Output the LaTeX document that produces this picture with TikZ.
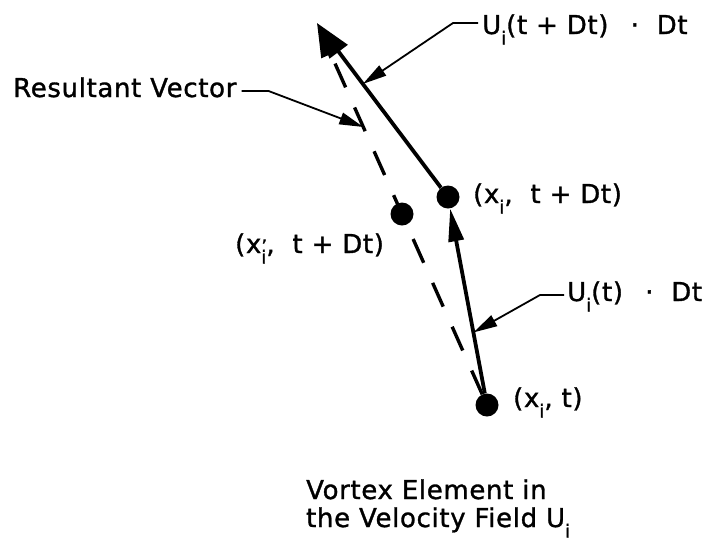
\documentclass[tikz,border=0pt]{standalone}
\usepackage{fontspec}
\setmainfont{DejaVu Sans}[LetterSpace=2.5, FakeBold=1.2]
\usepackage{tikz}
\usetikzlibrary{arrows.meta}

\newcommand{\loi}{\raisebox{-10.5pt}{\fontsize{18}{18}\selectfont i}}
\newcommand{\prmi}{\raisebox{-10.5pt}{\fontsize{18}{18}\selectfont\rlap{\raisebox{11pt}{'}}i}}

\begin{document}
\begin{tikzpicture}[x=1pt, y=-1pt,
  dot/.style={circle, fill=black, minimum size=23pt, inner sep=0pt},
  lab/.style={inner sep=0pt, anchor=base west, font=\fontsize{26}{30}\selectfont},
  vec/.style={line width=3.8pt, -{Triangle[length=33pt, width=15pt]}},
  res/.style={line width=3.4pt, dash pattern=on 26pt off 22pt, -{Triangle[length=34pt, width=20pt]}},
  lead/.style={line width=1.8pt, -{Triangle[length=24pt, width=12pt]}}
]
\useasboundingbox (0,0) rectangle (705,542);

% Element positions
\node[dot] (xt) at (487,405) {};
\node[dot] (xtdt) at (448,197) {};
\node[dot] (xpr) at (402,214) {};
\coordinate (tip) at (317,23);

% Vectors
\draw[vec] (xt) -- (xtdt);
\draw[res] (xt) -- (tip);
\draw[vec, -{Triangle[length=36pt, width=22pt]}] (xtdt) -- (tip);

% Points the pointers aim at
\path (xtdt) -- (tip) coordinate[pos=0.63] (onU1);
\path (xt) -- (tip) coordinate[pos=0.72] (onRes);
\path (xt) -- (xtdt) coordinate[pos=0.33] (onU0);

% Labels
\node[lab] (labU1) at (482,34) {U\loi(t + Dt)\ \ \,·\ \ Dt};
\node[lab] (labRes) at (13,97) {Resultant Vector};
\node[lab] (labXtdt) at (473,203) {(x\loi,\ \ t + Dt)};
\node[lab] (labXpr) at (235,253) {(x\prmi,\ \ t + Dt)};
\node[lab] (labU0) at (567,301) {U\loi(t)\ \ \,·\ \ Dt};
\node[lab] (labXt) at (513,407) {(x\loi, t)};
\node[lab] (cap1) at (306,499) {Vortex Element in};
\node[lab] (cap2) at (306,527) {the Velocity Field U\loi};

% Pointers
\draw[lead] ([xshift=-4pt, yshift=11pt]labU1.base west) -- ++(-25,0) -- (onU1);
\draw[lead] ([xshift=5pt, yshift=6pt]labRes.base east) -- ++(27,0) -- (onRes);
\draw[lead] ([xshift=-3pt, yshift=6pt]labU0.base west) -- ++(-24,0) -- (onU0);

\end{tikzpicture}
\end{document}
